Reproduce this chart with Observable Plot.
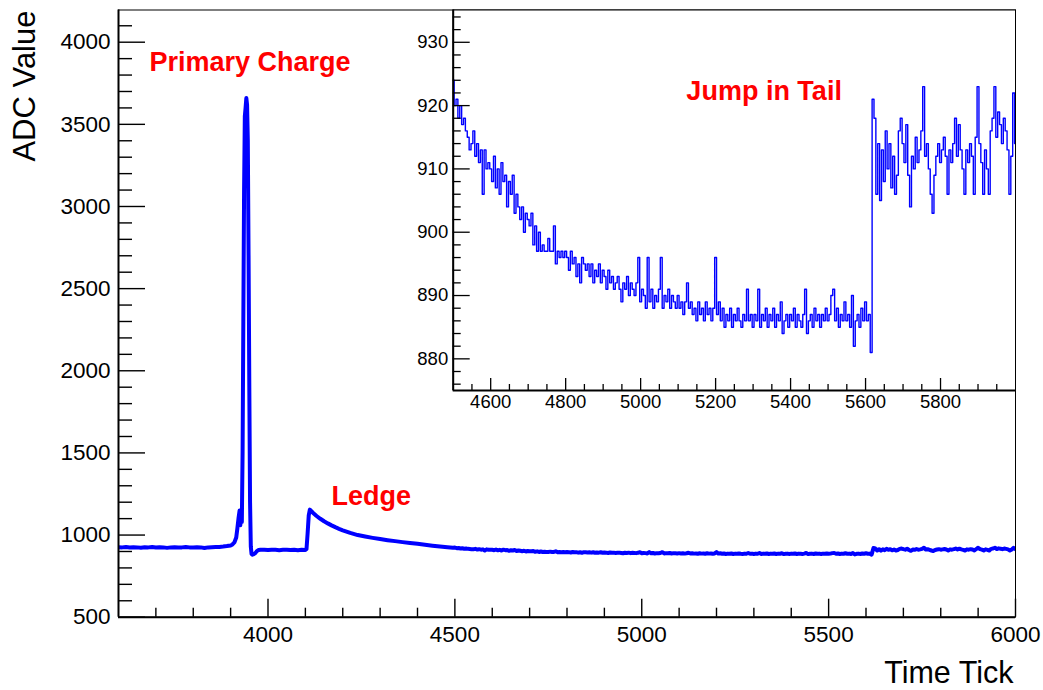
<!DOCTYPE html>
<html><head><meta charset="utf-8">
<script src="https://cdn.jsdelivr.net/npm/d3@7"></script>
<script src="https://cdn.jsdelivr.net/npm/@observablehq/plot@0.6"></script>
<style>
html,body{margin:0;padding:0;background:#fff;}
#wrap{position:relative;width:1043px;height:690px;overflow:hidden;}
#wrap svg{position:absolute;}
</style></head><body><div id="wrap"></div>
<script>
// ---------- DATA ----------
// waveform before 4500 (irregular sampling)
const earlyTicks = [3600,3610,3620,3630,3640,3650,3660,3670,3680,3690,3700,3710,3720,3730,3740,3750,3760,3770,3780,3790,3800,3810,3820,3830,3840,3850,3860,3870,3880,3890,3900,3905,3910,3915,3918,3921,3924,3926,3928,3930,3932,3934,3936,3938,3940,3942,3944,3946,3948,3950,3952,3954,3956,3958,3962,3966,3970,3975,3980,3990,4000,4010,4020,4030,4040,4050,4060,4070,4080,4090,4100,4103,4106,4109,4112,4120,4130,4140,4150,4160,4170,4180,4190,4200,4220,4240,4260,4280,4300,4320,4340,4360,4380,4400,4420,4440,4460,4480,4495];
const earlyAdc = [926,925,927,924,926,925,923,926,925,927,924,926,925,922,925,926,924,925,927,925,924,926,925,921,925,926,927,928,930,933,937,943,955,985,1040,1100,1150,1060,1150,1080,1500,2300,3100,3550,3600,3660,3620,3400,2700,1900,1200,930,885,880,884,890,902,909,911,910,909,911,910,908,910,911,909,910,908,910,909,915,1010,1120,1155,1136,1116,1099,1084,1071,1059,1048,1038,1029,1013,1000,991,983,976,969,963,957,952,947,941,935,930,926,923];

// tail of the waveform, one value every 5 ticks from 4500 to 6000
const tailStart = 4500, tailStep = 5;
const tailAdc = [
 924,920,921,918,920,917,918,916,915,913,914,916,912,914,911,913,906,913,910,911,
 910,908,912,907,910,906,911,908,909,904,908,906,909,903,906,904,902,904,900,903,
 902,901,903,898,901,897,900,897,898,897,897,899,897,897,901,895,897,896,897,896,
 897,896,894,897,895,896,893,895,892,896,895,894,895,893,895,892,894,893,895,892,
 894,893,891,894,892,893,891,892,893,891,889,892,891,893,890,892,891,890,892,896,
 889,891,890,888,896,889,891,888,890,889,891,896,888,890,889,891,888,890,889,888,
 890,888,889,887,889,892,888,889,887,888,886,889,887,888,886,889,887,888,886,888,
 896,887,889,886,888,885,887,886,888,885,887,886,888,886,885,887,886,891,886,887,
 885,887,886,891,885,887,886,888,885,887,886,888,885,887,886,889,884,886,887,885,
 887,886,888,885,887,886,885,887,891,884,886,887,885,888,886,887,885,887,886,888,
 886,887,890,891,886,888,885,887,886,889,886,887,885,890,882,886,887,885,888,886,
 889,886,887,881,921,918,906,914,905,913,908,916,910,914,907,912,906,909,916,918,
 914,911,917,909,904,912,910,915,911,913,916,923,912,914,910,906,903,909,912,914,
 911,913,915,912,906,913,911,914,918,912,917,913,910,906,913,911,914,912,906,915,
 923,914,911,906,913,910,906,916,918,923,915,919,917,914,918,916,913,906,912,922,
 914
];

// axes
const mainXMajor = [4000,4500,5000,5500,6000];
const mainXMinor = [3700,3800,3900,4100,4200,4300,4400,4600,4700,4800,4900,5100,5200,5300,5400,5600,5700,5800,5900];
const mainYMajor = [500,1000,1500,2000,2500,3000,3500,4000];
const mainYMinor = [600,700,800,900,1100,1200,1300,1400,1600,1700,1800,1900,2100,2200,2300,2400,2600,2700,2800,2900,3100,3200,3300,3400,3600,3700,3800,3900,4100];
const insetXMajor = [4600,4800,5000,5200,5400,5600,5800];
const insetXMinor = [4550,4650,4700,4750,4850,4900,4950,5050,5100,5150,5250,5300,5350,5450,5500,5550,5650,5700,5750,5850,5900,5950];
const insetYMajor = [880,890,900,910,920,930];
const insetYMinor = [876,878,882,884,886,888,892,894,896,898,902,904,906,908,912,914,916,918,922,924,926,928,932,934];

// annotations
const mainLabels = [
  {t: 3683, v: 3878, text: "Primary Charge"},
  {t: 4170, v: 1237, text: "Ledge"}
];
const insetLabels = [{t: 5122, v: 922.2, text: "Jump in Tail"}];

// ---------- BUILD ----------
const tailData = tailAdc.map((v, i) => ({t: tailStart + i * tailStep, v}));
const earlyData = earlyTicks.map((t, i) => ({t, v: earlyAdc[i]}));
const mainData = earlyData.concat(tailData);

const FONT = "'Liberation Sans', Arial, Helvetica, sans-serif";
const BLUE = "#0000ff", RED = "#ff0000";

const W = 1043, H = 690;
const mM = {top: 9.5, right: 28, bottom: 73.3, left: 118};
const mIW = W - mM.left - mM.right, mIH = H - mM.top - mM.bottom;

const main = Plot.plot({
  width: W, height: H,
  marginTop: mM.top, marginRight: mM.right, marginBottom: mM.bottom, marginLeft: mM.left,
  style: {fontFamily: FONT, fontSize: "22.5px", background: "white", color: "black"},
  x: {domain: [3600, 6000], ticks: mainXMajor, tickSize: 0, tickPadding: 9, tickFormat: "d", label: null},
  y: {domain: [500, 4196], ticks: mainYMajor, tickSize: 0, tickPadding: 8, tickFormat: "d", label: null},
  marks: [
    Plot.line(mainData, {x: "t", y: "v", stroke: BLUE, strokeWidth: 4, clip: true}),
    Plot.tickX(mainXMajor, {x: d => d, insetTop: mIH - 18, stroke: "black", strokeWidth: 1.4}),
    Plot.tickX(mainXMinor, {x: d => d, insetTop: mIH - 9, stroke: "black", strokeWidth: 1.4}),
    Plot.tickY(mainYMajor, {y: d => d, insetRight: mIW - 27, stroke: "black", strokeWidth: 1.4}),
    Plot.tickY(mainYMinor, {y: d => d, insetRight: mIW - 14, stroke: "black", strokeWidth: 1.4}),
    Plot.frame({stroke: "black", strokeWidth: 1}),
    Plot.ruleX([3600], {stroke: "black", strokeWidth: 2}),
    Plot.ruleY([500], {stroke: "black", strokeWidth: 2}),
    Plot.text(mainLabels, {x: "t", y: "v", text: "text", fill: RED, fontWeight: "bold", fontSize: 27, textAnchor: "start", lineAnchor: "middle", fontFamily: FONT}),
    Plot.text(["ADC Value"], {frameAnchor: "top-left", dx: -93, dy: 0.5, rotate: -90, textAnchor: "end", lineAnchor: "middle", fontSize: 31, fill: "black", fontFamily: FONT}),
    Plot.text(["Time Tick"], {frameAnchor: "bottom-right", dx: -2, dy: 56.5, textAnchor: "end", lineAnchor: "middle", fontSize: 30.5, fill: "black", fontFamily: FONT})
  ]
});
main.style.left = "0px"; main.style.top = "0px";
document.getElementById("wrap").appendChild(main);

// inset
const iW = 648, iH = 420, iLeft = 395;
const iM = {top: 9.5, right: 28, bottom: 30, left: 452.7 - iLeft};
const iIW = iW - iM.left - iM.right, iIH = iH - iM.top - iM.bottom;

const inset = Plot.plot({
  width: iW, height: iH,
  marginTop: iM.top, marginRight: iM.right, marginBottom: iM.bottom, marginLeft: iM.left,
  style: {fontFamily: FONT, fontSize: "18.5px", background: "transparent", color: "black"},
  x: {domain: [4500, 6000], ticks: insetXMajor, tickSize: 0, tickPadding: 4, tickFormat: "d", label: null},
  y: {domain: [875, 935.1], ticks: insetYMajor, tickSize: 0, tickPadding: 5, tickFormat: "d", label: null},
  marks: [
    Plot.frame({fill: "white", stroke: "none"}),
    Plot.line(tailData, {x: "t", y: "v", stroke: BLUE, strokeWidth: 1.4, curve: "step", clip: true}),
    Plot.tickX(insetXMajor, {x: d => d, insetTop: iIH - 12, stroke: "black", strokeWidth: 1.3}),
    Plot.tickX(insetXMinor, {x: d => d, insetTop: iIH - 6, stroke: "black", strokeWidth: 1.3}),
    Plot.tickY(insetYMajor, {y: d => d, insetRight: iIW - 17, stroke: "black", strokeWidth: 1.3}),
    Plot.tickY(insetYMinor, {y: d => d, insetRight: iIW - 8, stroke: "black", strokeWidth: 1.3}),
    Plot.frame({stroke: "black", strokeWidth: 1}),
    Plot.ruleX([4500], {stroke: "black", strokeWidth: 2}),
    Plot.ruleY([875], {stroke: "black", strokeWidth: 2}),
    Plot.text(insetLabels, {x: "t", y: "v", text: "text", fill: RED, fontWeight: "bold", fontSize: 27, textAnchor: "start", lineAnchor: "middle", fontFamily: FONT})
  ]
});
inset.style.left = iLeft + "px"; inset.style.top = "0px";
document.getElementById("wrap").appendChild(inset);
</script></body></html>
